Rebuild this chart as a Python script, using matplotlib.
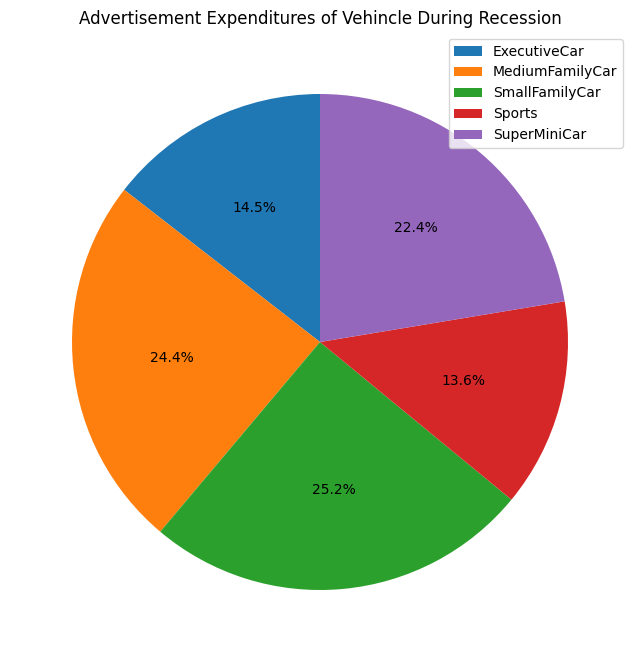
import matplotlib
matplotlib.use("Agg")
import matplotlib.pyplot as plt

categories = ["ExecutiveCar", "MediumFamilyCar", "SmallFamilyCar", "Sports", "SuperMiniCar"]
shares = [14.5, 24.4, 25.2, 13.6, 22.4]

W, H = 640, 662
fig = plt.figure(figsize=(W / 100, H / 100), dpi=100)
cx, cy, half = 320, 342, 310
ax = fig.add_axes([(cx - half) / W, (H - cy - half) / H, 2 * half / W, 2 * half / H])
wedges, texts, autotexts = ax.pie(shares, autopct="%1.1f%%", startangle=90)
ax.set_aspect("equal")
ax.set_title("Advertisement Expenditures of Vehincle During Recession")
ax.legend(wedges, categories, loc="upper right")
fig.savefig("out.png", dpi=100)
